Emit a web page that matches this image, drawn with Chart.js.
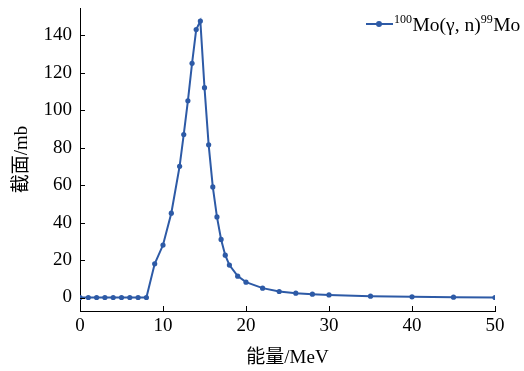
<!DOCTYPE html>
<html>
<head>
<meta charset="utf-8">
<script src="https://cdn.jsdelivr.net/npm/chart.js@4.4.1/dist/chart.umd.min.js"></script>
<style>
  html, body { margin: 0; padding: 0; background: #fff; }
  #wrap { width: 524px; height: 371px; }
</style>
</head>
<body>
<div id="wrap"><canvas id="lineChart" width="524" height="371"></canvas></div>
<script>
// energy (MeV) and cross section (mb)
var energi = [0, 1, 2, 3, 4, 5, 6, 7, 8, 9, 10, 11, 12, 12.5, 13, 13.5, 14, 14.5, 15, 15.5,
              16, 16.5, 17, 17.5, 18, 19, 20, 22, 24, 26, 28, 30, 35, 40, 45, 50];
var penampang = [0, 0, 0, 0, 0, 0, 0, 0, 0, 18, 28, 45, 70, 87, 105, 125, 143, 147.5, 112, 81.5,
                 59, 43, 31, 22.6, 17.3, 11.4, 8.2, 5, 3.2, 2.3, 1.8, 1.4, 0.7, 0.35, 0.2, 0];
var xTicks = [0, 10, 20, 30, 40, 50];
var yTicks = [0, 20, 40, 60, 80, 100, 120, 140];

var warna = '#2d5aa6';
var serif = '"Liberation Serif", "Times New Roman", serif';
var cjk = '"Liberation Serif", "Noto Sans CJK SC", serif';

var titik = [];
for (var i = 0; i < energi.length; i++) {
  titik.push({ x: energi[i], y: penampang[i] });
}

// ticks pointing into the plot + legend with superscripts
var tickDalam = {
  id: 'tickDalam',
  afterDraw: function (chart) {
    var ctx = chart.ctx, xs = chart.scales.x, ys = chart.scales.y, a = chart.chartArea;
    ctx.save();
    ctx.strokeStyle = '#000';
    ctx.lineWidth = 1;
    ctx.beginPath();
    xs.ticks.forEach(function (t) {
      var px = Math.round(xs.getPixelForValue(t.value)) + 0.5;
      ctx.moveTo(px, a.bottom);
      ctx.lineTo(px, a.bottom - 5);
    });
    ys.ticks.forEach(function (t) {
      var py = Math.round(ys.getPixelForValue(t.value)) + 0.5;
      ctx.moveTo(a.left, py);
      ctx.lineTo(a.left + 5, py);
    });
    ctx.stroke();

    // legend
    var ly = 24, lx = 366;
    ctx.strokeStyle = warna;
    ctx.lineWidth = 2;
    ctx.beginPath();
    ctx.moveTo(lx, ly);
    ctx.lineTo(lx + 27, ly);
    ctx.stroke();
    ctx.fillStyle = warna;
    ctx.beginPath();
    ctx.arc(lx + 13, ly, 3, 0, Math.PI * 2);
    ctx.fill();

    ctx.fillStyle = '#000';
    ctx.textBaseline = 'alphabetic';
    var x = lx + 28, base = 31;
    var bagian = [['100', true], ['Mo(\u03b3, n)', false], ['99', true], ['Mo', false]];
    bagian.forEach(function (b) {
      ctx.font = (b[1] ? '12px ' : '19.5px ') + serif;
      ctx.fillText(b[0], x, b[1] ? base - 8 : base);
      x += ctx.measureText(b[0]).width + (b[1] ? 0.5 : 0);
    });
    ctx.restore();
  }
};

var ctx = document.getElementById('lineChart').getContext('2d');
new Chart(ctx, {
  type: 'line',
  data: {
    datasets: [{
      label: '100Mo(γ, n)99Mo',
      data: titik,
      borderColor: warna,
      backgroundColor: warna,
      borderWidth: 2,
      pointRadius: 2.6,
      pointHoverRadius: 2.6,
      pointBorderWidth: 0,
      tension: 0,
      fill: false
    }]
  },
  options: {
    responsive: false,
    animation: false,
    layout: { autoPadding: false, padding: { top: 8, right: 29, left: 0, bottom: 0 } },
    plugins: { legend: { display: false }, tooltip: { enabled: false } },
    scales: {
      x: {
        type: 'linear',
        min: 0,
        max: 50,
        afterBuildTicks: function (s) { s.ticks = xTicks.map(function (v) { return { value: v }; }); },
        afterFit: function (s) { s.height = 60; s.paddingLeft = 0; s.paddingRight = 0; },
        grid: { display: true, drawOnChartArea: false, drawTicks: false },
        border: { display: true, color: '#000', width: 1 },
        ticks: { color: '#000', font: { family: serif, size: 19 }, padding: 4, maxRotation: 0 },
        title: { display: true, text: '能量/MeV', color: '#000', font: { family: cjk, size: 19 }, padding: { top: 0, bottom: 2 } }
      },
      y: {
        min: -7.2,
        max: 154.5,
        afterBuildTicks: function (s) { s.ticks = yTicks.map(function (v) { return { value: v }; }); },
        afterFit: function (s) { s.width = 80; s.paddingTop = 0; s.paddingBottom = 0; },
        grid: { display: true, drawOnChartArea: false, drawTicks: false },
        border: { display: true, color: '#000', width: 1 },
        ticks: { color: '#000', font: { family: serif, size: 19 }, padding: 8 },
        title: { display: true, text: '截面/mb', color: '#000', font: { family: cjk, size: 19 }, padding: { top: 11, bottom: 0 } }
      }
    }
  },
  plugins: [tickDalam]
});
</script>
</body>
</html>
